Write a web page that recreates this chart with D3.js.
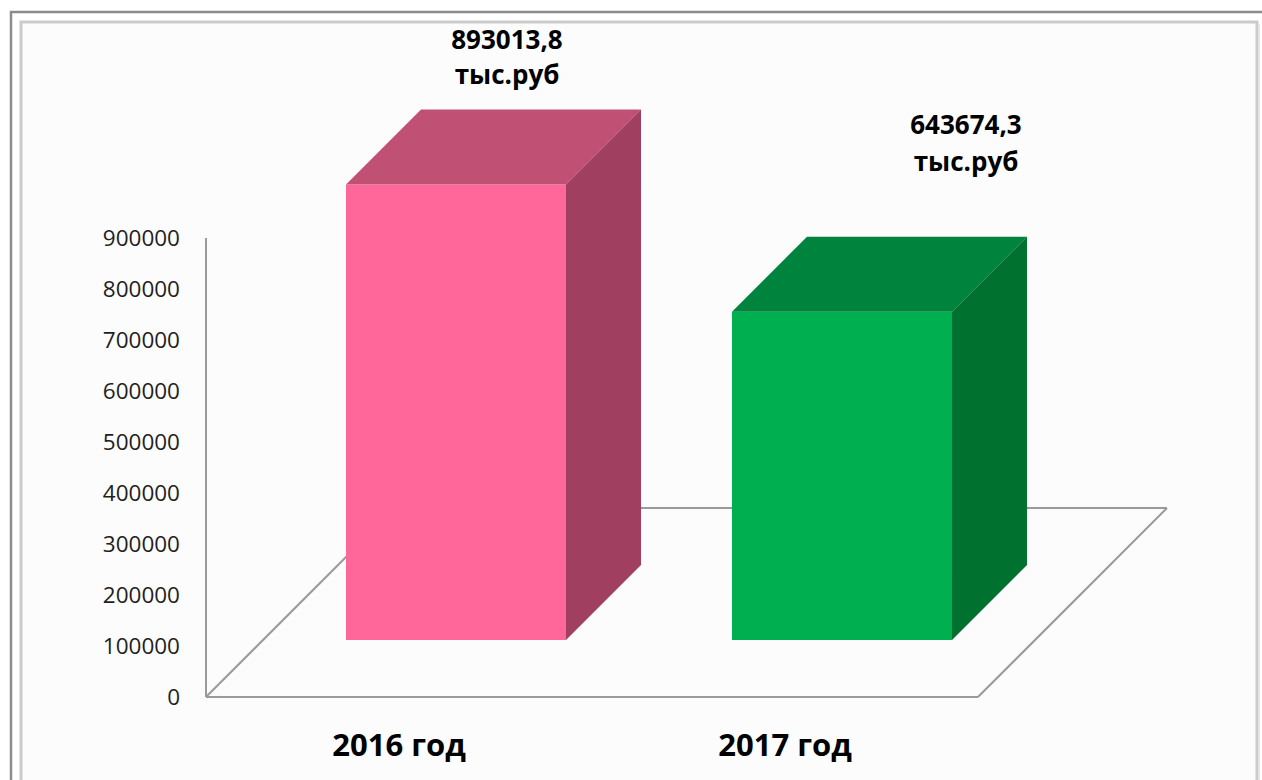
<!DOCTYPE html>
<html>
<head>
<meta charset="utf-8">
<script src="https://cdnjs.cloudflare.com/ajax/libs/d3/7.8.5/d3.min.js"></script>
<style>
  html, body { margin: 0; padding: 0; background: #fff; }
  svg { display: block; }
</style>
</head>
<body>
<div id="chart"></div>
<script>
// data
const categories = ["2016 год", "2017 год"]
const values = [893013.8, 643674.3]
const valueLabels = ["893013,8", "643674,3"]
const unitLabel = "тыс.руб"
const yTicks = [0, 100000, 200000, 300000, 400000, 500000, 600000, 700000, 800000, 900000]

const W = 1262, H = 780

// colours for each bar: front, top, side
const faces = [
    { front: "#ff6699", top: "#c05074", side: "#a03f5f" },
    { front: "#00b050", top: "#00843d", side: "#00712f" }
]

// front plane of the floor and the 3D depth (oblique, 45deg)
const plot = { left: 206, right: 978, top: 238, bottom: 697 }
const floorDepth = 189
const barFront = 57, barBack = 132

const svg = d3.select("#chart")
    .append("svg")
    .attr("width", W)
    .attr("height", H)

// frame
svg.append("path")
    .attr("d", `M11,${H} L11,12 L${W},12`)
    .attr("fill", "none")
    .attr("stroke", "#8c8c8c")
    .attr("stroke-width", 2.5)
svg.append("rect")
    .attr("x", 21).attr("y", 22)
    .attr("width", 1236).attr("height", H)
    .attr("fill", "#fcfcfc")
    .attr("stroke", "#cbcbcb")
    .attr("stroke-width", 3)
svg.append("line")
    .attr("x1", 1259).attr("x2", 1259).attr("y1", 24).attr("y2", H)
    .attr("stroke", "#e4e4e4").attr("stroke-width", 2)

const y = d3.scaleLinear().domain([0, 900000]).range([plot.bottom, plot.top])
const x = d3.scaleBand()
    .domain(categories)
    .range([plot.left, plot.right])
    .paddingInner(0.43)
    .paddingOuter(0.215)

// y axis labels
svg.append("g")
    .selectAll("text")
    .data(yTicks)
    .join("text")
    .attr("x", 180)
    .attr("y", d => y(d))
    .attr("dy", "0.36em")
    .attr("text-anchor", "end")
    .style("font-family", "'Open Sans', sans-serif")
    .style("font-size", "22.5px")
    .attr("fill", "#1f1f1f")
    .text(d => d)

// floor and axis line
const gridColor = "#9a9a9a"
const floor = [
    [plot.left + floorDepth, plot.bottom - floorDepth, plot.right + floorDepth, plot.bottom - floorDepth],
    [plot.left, plot.bottom, plot.left + floorDepth, plot.bottom - floorDepth],
    [plot.right, plot.bottom, plot.right + floorDepth, plot.bottom - floorDepth],
    [plot.left, plot.bottom, plot.right, plot.bottom],
    [plot.left, plot.top, plot.left, plot.bottom]
]
svg.append("g")
    .selectAll("line")
    .data(floor)
    .join("line")
    .attr("x1", d => d[0]).attr("y1", d => d[1])
    .attr("x2", d => d[2]).attr("y2", d => d[3])
    .attr("stroke", gridColor)
    .attr("stroke-width", 2)

// bars
const bars = svg.append("g")
    .selectAll("g")
    .data(categories.map((c, i) => ({ cat: c, value: values[i], col: faces[i] })))
    .join("g")

bars.each(function (d) {
    const g = d3.select(this)
    const x0 = x(d.cat) + barFront, x1 = x0 + x.bandwidth()
    const yb = y(0) - barFront, yt = y(d.value) - barFront
    const dd = barBack - barFront

    g.append("rect")
        .attr("x", x0).attr("y", yt)
        .attr("width", x1 - x0).attr("height", yb - yt)
        .attr("fill", d.col.front)
    g.append("path")
        .attr("d", `M${x0},${yt} L${x1},${yt} L${x1 + dd},${yt - dd} L${x0 + dd},${yt - dd} Z`)
        .attr("fill", d.col.top)
    g.append("path")
        .attr("d", `M${x1},${yt} L${x1 + dd},${yt - dd} L${x1 + dd},${yb - dd} L${x1},${yb} Z`)
        .attr("fill", d.col.side)
})

// value labels (placement as in the original)
const labelPos = [{ cx: 507, y1: 49, y2: 84 }, { cx: 966, y1: 134, y2: 171 }]
const labels = svg.append("g")
    .selectAll("g")
    .data(valueLabels)
    .join("g")
    .style("font-family", "'Open Sans', sans-serif")
    .style("font-weight", "bold")
    .style("font-size", "26px")
    .attr("fill", "#000")
    .attr("text-anchor", "middle")
labels.append("text")
    .attr("x", (d, i) => labelPos[i].cx)
    .attr("y", (d, i) => labelPos[i].y1)
    .text(d => d)
labels.append("text")
    .attr("x", (d, i) => labelPos[i].cx)
    .attr("y", (d, i) => labelPos[i].y2)
    .text(unitLabel)

// category labels
svg.append("g")
    .selectAll("text")
    .data(categories)
    .join("text")
    .attr("x", d => x(d) + x.bandwidth() / 2)
    .attr("y", 756)
    .attr("text-anchor", "middle")
    .style("font-family", "'Open Sans', sans-serif")
    .style("font-weight", "bold")
    .style("font-size", "31px")
    .attr("fill", "#000")
    .text(d => d)
</script>
</body>
</html>
